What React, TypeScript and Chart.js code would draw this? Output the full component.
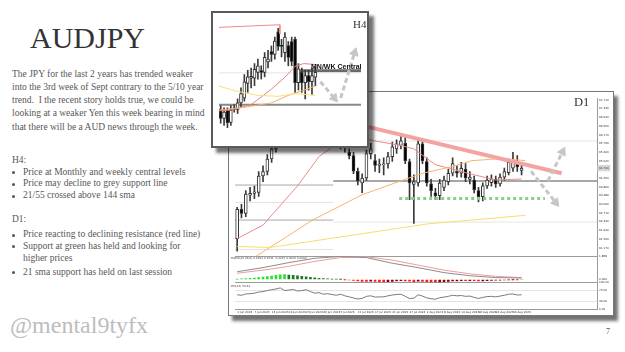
import React, { useEffect, useRef } from "react";
import { Chart, registerables } from "chart.js";

Chart.register(...registerables);

// ---------------- D1 data ----------------
const d1DateTicks = ["1 Jun 2023", "7 Jun 2023", "13 Jun 2023", "19 Jun 2023", "23 Jun 2023", "29 Jun 2023", "5 Jul 2023", "11 Jul 2023", "17 Jul 2023", "21 Jul 2023", "27 Jul 2023", "2 Aug 2023", "8 Aug 2023", "14 Aug 2023", "18 Aug 2023", "24 Aug 2023", "30 Aug 2023"];
const d1PriceTicks = [97.71, 97.33, 96.94, 96.56, 96.17, 95.79, 95.40, 95.02, 94.70, 94.25, 93.86, 93.48, 93.09, 92.71, 92.33, 91.94, 91.56, 91.17];
const macdTicks = [1.858, 0];
const rsiTicks = [100, 70, 30, 0];

const d1Open = [91.58, 92.87, 92.70, 93.50, 93.58, 93.62, 94.35, 94.55, 95.10, 95.55, 95.95, 96.40, 96.20, 96.75, 97.05, 96.70, 96.95, 97.40, 97.10, 96.55, 96.80, 96.35, 96.60, 96.20, 95.85, 95.95, 95.40, 95.25, 94.56, 94.04, 94.26, 95.34, 95.03, 94.82, 94.84, 94.88, 95.21, 95.55, 95.70, 95.80, 94.99, 93.98, 94.04, 95.77, 94.99, 94.00, 93.61, 93.48, 93.85, 94.10, 94.47, 94.56, 94.47, 94.65, 94.20, 94.17, 93.70, 93.44, 93.91, 94.06, 94.20, 94.00, 94.30, 94.50, 94.70, 95.00, 94.60];
const d1High = [92.96, 93.10, 93.70, 93.85, 93.90, 94.55, 94.80, 95.30, 95.75, 96.20, 96.60, 96.70, 96.95, 97.30, 97.20, 97.15, 97.60, 97.65, 97.25, 97.00, 96.95, 96.85, 96.75, 96.40, 96.10, 96.10, 95.55, 95.40, 94.70, 94.45, 95.50, 95.80, 95.30, 95.10, 95.15, 95.40, 95.85, 95.95, 96.10, 96.05, 95.10, 94.40, 96.05, 96.00, 95.15, 94.20, 93.80, 94.20, 94.35, 94.65, 95.15, 94.80, 94.95, 94.90, 94.55, 94.35, 93.85, 94.05, 94.35, 94.40, 94.35, 94.45, 94.70, 95.10, 95.40, 95.25, 94.95];
const d1Low = [91.02, 92.50, 92.55, 93.25, 93.35, 93.45, 94.10, 94.40, 94.95, 95.40, 95.80, 95.95, 96.05, 96.55, 96.45, 96.50, 96.80, 96.90, 96.40, 96.30, 96.10, 96.20, 95.95, 95.70, 95.55, 95.40, 95.10, 94.45, 93.95, 93.61, 94.15, 95.10, 94.55, 94.50, 94.40, 94.70, 95.00, 95.35, 95.55, 94.90, 93.30, 92.25, 93.90, 94.90, 93.90, 93.45, 93.30, 93.30, 93.70, 93.95, 94.35, 94.30, 94.30, 94.10, 94.00, 93.60, 93.20, 93.25, 93.80, 93.90, 93.85, 93.90, 94.15, 94.40, 94.55, 94.55, 94.40];
const d1Close = [92.87, 92.70, 93.55, 93.58, 93.65, 94.35, 94.55, 95.10, 95.55, 95.95, 96.40, 96.20, 96.75, 97.05, 96.70, 96.95, 97.40, 97.10, 96.55, 96.80, 96.35, 96.60, 96.20, 95.85, 95.95, 95.60, 95.25, 94.56, 94.13, 94.26, 95.34, 95.55, 94.82, 94.86, 94.88, 95.21, 95.64, 95.77, 95.90, 95.03, 94.04, 94.10, 95.77, 95.03, 94.04, 93.70, 93.48, 94.04, 94.17, 94.47, 94.90, 94.47, 94.69, 94.26, 94.30, 93.74, 93.44, 93.91, 94.17, 94.23, 94.00, 94.30, 94.55, 94.95, 95.00, 94.75, 94.70];

// moving averages etc.: [candle index, price]
const d1Sma21 = [[0, 91.58], [6, 92.18], [14, 93.91], [19, 95.21], [24, 95.9], [28, 96.1], [32, 95.9], [38, 95.7], [41, 95.55], [46, 94.85], [48, 94.75], [54, 94.45], [60, 94.17], [66, 94.22]];
const d1Sma55 = [[0, 90.45], [4, 90.75], [17.5, 92.4], [29, 93.52], [38.5, 94.17], [43, 94.47], [50, 94.77], [54.5, 95.03], [61.4, 95.12], [66.9, 95.03]];
const d1Sma144 = [[0, 91.23], [7.7, 91.19], [21.4, 91.58], [44.2, 92.23], [66.9, 92.61]];
const d1Resistance = [[26, 96.72], [75.3, 94.47]];
const d1GreenSupport = [[37.6, 93.35], [71.4, 93.35]];
const d1ArrowDown = [[68.2, 94.56], [73.9, 93.18]];
const d1ArrowUp = [[72.1, 94.13], [75.5, 95.42]];

const d1LevelPrice = [93.95, 92.40, 93.18, 91.10, 94.13, 95.90, 92.31];
const d1LevelFrom = [-0.5, -0.5, -0.5, -0.5, 22.3, 22.3, 22.3];
const d1LevelTo = [22.3, 22.3, 22.3, 22.3, 83.5, 83.5, 83.5];

const macdHist = [0.03, 0.05, 0.08, 0.10, 0.12, 0.16, 0.20, 0.24, 0.28, 0.33, 0.38, 0.40, 0.36, 0.33, 0.30, 0.25, 0.22, 0.18, 0.14, 0.10, 0.07, 0.05, 0.03, 0.02, 0.01, -0.01, -0.04, -0.08, -0.12, -0.15, -0.15, -0.14, -0.16, -0.18, -0.18, -0.17, -0.15, -0.12, -0.10, -0.11, -0.14, -0.17, -0.14, -0.15, -0.18, -0.20, -0.22, -0.20, -0.18, -0.15, -0.12, -0.11, -0.10, -0.10, -0.09, -0.10, -0.12, -0.11, -0.09, -0.07, -0.06, -0.05, -0.04, -0.02, -0.01, -0.01, 0.0];
const macdMain = [[0, 0.62], [6, 0.95], [12, 1.35], [18, 1.70], [24, 1.84], [30, 1.75], [36, 1.30], [42, 0.95], [48, 0.55], [54, 0.30], [60, 0.15], [66, 0.12]];
const macdSignal = [[0, 0.50], [6, 0.75], [12, 1.05], [18, 1.45], [24, 1.75], [30, 1.82], [36, 1.55], [42, 1.15], [48, 0.75], [54, 0.45], [60, 0.25], [66, 0.15]];
const rsi14 = [54, 52, 57, 58, 60, 64, 66, 70, 73, 76, 80, 70, 72, 74, 68, 70, 73, 66, 60, 62, 56, 58, 55, 52, 56, 50, 46, 42, 38, 40, 48, 50, 45, 46, 46, 50, 53, 55, 56, 48, 40, 41, 54, 49, 42, 39, 37, 43, 45, 48, 52, 50, 51, 48, 49, 44, 40, 44, 47, 48, 46, 49, 52, 56, 57, 53, 54];

// ---------------- H4 data ----------------
const h4Open = [94.02, 93.81, 93.99, 93.72, 94.05, 94.01, 94.16, 94.27, 94.60, 94.72, 94.72, 94.85, 94.89, 94.85, 95.09, 95.32, 95.26, 95.77, 95.46, 95.30, 95.46, 95.55, 95.60, 94.62, 94.85, 94.62, 94.78, 94.64, 94.74];
const h4High = [94.10, 94.05, 94.05, 94.10, 94.12, 94.25, 94.50, 94.80, 94.90, 94.95, 95.05, 95.15, 95.00, 95.30, 95.35, 95.45, 95.65, 95.85, 95.60, 95.75, 95.55, 95.65, 95.65, 95.05, 94.95, 94.90, 94.90, 94.95, 94.98];
const h4Low = [93.70, 93.65, 93.60, 93.65, 93.95, 93.92, 94.05, 94.20, 94.40, 94.50, 94.55, 94.70, 94.70, 94.75, 94.95, 95.10, 95.15, 95.35, 95.20, 95.10, 95.00, 95.00, 94.40, 94.45, 94.40, 94.25, 94.45, 94.35, 94.55];
const h4Close = [93.81, 93.95, 93.71, 94.00, 94.01, 94.16, 94.37, 94.64, 94.75, 94.76, 94.92, 95.00, 94.85, 95.19, 95.15, 95.26, 95.56, 95.44, 95.44, 95.65, 95.19, 95.10, 94.62, 94.93, 94.62, 94.78, 94.64, 94.78, 94.85];
const h4Sma21 = [[-0.5, 93.98], [3, 94.0], [9, 94.12], [15, 94.47], [19, 94.74], [22, 94.99], [24.5, 95.05], [28, 95.03]];
const h4Sma55 = [[-0.5, 94.0], [7, 94.06], [15, 94.16], [20, 94.33], [24, 94.43], [28, 94.54]];
const h4Sma144 = [[-0.5, 94.54], [5, 94.42], [11, 94.33], [17, 94.31], [22, 94.37], [28, 94.33]];
const h4MonthlyStep = [[-0.5, 95.87], [17.5, 95.93], [17.5, 95.72]];
const h4GreySupport = [[-0.5, 94.12], [41.5, 94.12]];
const h4LightLevel = [[-0.5, 94.84], [41.5, 94.84]];
const h4Central = [[23, 94.89], [41.5, 94.89]];
const h4ArrowDown = [[29.5, 94.64], [33.6, 94.27]];
const h4ArrowUp = [[35.5, 94.27], [39.6, 95.3]];

// ---------------- helpers ----------------
const pts = (a: number[][]) => a.map(([x, y]) => ({ x, y }));

function candles(o: number[], h: number[], l: number[], c: number[], yAxisID: string, bodyW: number) {
  return [
    {
      type: "bar", yAxisID, order: 8, grouped: false, barThickness: 1,
      data: o.map((_, i) => ({ x: i, y: [l[i], h[i]] })),
      backgroundColor: "#3a3a3a",
    },
    {
      type: "bar", yAxisID, order: 7, grouped: false, barThickness: bodyW, minBarLength: 1,
      data: o.map((v, i) => ({ x: i, y: [v, c[i]] })),
      backgroundColor: o.map((v, i) => (c[i] >= v ? "#ffffff" : "#000000")),
      borderColor: "#333", borderWidth: 1, borderSkipped: false,
    },
  ];
}

function line(data: number[][], color: string, width: number, yAxisID: string, order: number, extra: any = {}) {
  return { type: "line", data: pts(data), borderColor: color, backgroundColor: color, borderWidth: width, pointRadius: 0, tension: 0, fill: false, yAxisID, order, ...extra };
}

function arrowHead(p: number[], rotation: number, yAxisID: string, radius: number) {
  return { type: "line", data: pts([p]), showLine: false, pointStyle: "triangle", pointRadius: radius, rotation, pointBackgroundColor: "#c6c6c6", pointBorderColor: "#c6c6c6", borderWidth: 1, yAxisID, order: 0 };
}

const tickFont = { size: 2.8, family: "DejaVu Sans" };
const lastClose = d1Close[d1Close.length - 1];

function d1Config(): any {
  const levelColors = ["#a8a8a8", "#a8a8a8", "#e2e2e2", "#e2e2e2", "#8a8a8a", "#e6e6e6", "#e6e6e6"];
  const levelWidths = [1, 1, 1, 1, 1.5, 1, 1];
  const levels = d1LevelPrice.map((p, k) => line([[d1LevelFrom[k], p], [d1LevelTo[k], p]], levelColors[k], levelWidths[k], "yPrice", 20));
  const histColors = macdHist.map((v, i) => {
    const prev = i > 0 ? macdHist[i - 1] : 0;
    if (v >= 0) return v >= prev ? "#2ee02e" : "#1f7a1f";
    return v <= prev ? "#ff1a1a" : "#8b0000";
  });
  return {
    type: "bar",
    data: {
      datasets: [
        ...levels,
        ...candles(d1Open, d1High, d1Low, d1Close, "yPrice", 3),
        line(d1Sma144, "#f7dc6f", 1, "yPrice", 3),
        line(d1Sma55, "#f6b56a", 1, "yPrice", 3),
        line(d1Sma21, "#ee8a8a", 1, "yPrice", 3),
        line(d1Resistance, "#f4a3a3", 4, "yPrice", 2),
        line(d1GreenSupport, "#86cf86", 3, "yPrice", 2, { borderDash: [3, 3] }),
        line(d1ArrowDown, "#c6c6c6", 3, "yPrice", 1, { borderDash: [5, 3] }),
        line(d1ArrowUp, "#c6c6c6", 3, "yPrice", 1, { borderDash: [5, 3] }),
        arrowHead(d1ArrowDown[1], 142, "yPrice", 5),
        arrowHead(d1ArrowUp[1], 27, "yPrice", 5),
        { type: "bar", yAxisID: "yMacd", grouped: false, barThickness: 2, order: 5, data: macdHist.map((v, i) => ({ x: i, y: v })), backgroundColor: histColors },
        line(macdMain, "#8c8c8c", 1, "yMacd", 4),
        line(macdSignal, "#f19b9b", 1, "yMacd", 4),
        line(rsi14.map((v, i) => [i, v]), "#7a7a7a", 1, "yRsi", 4),
      ],
    },
    options: {
      responsive: false, animation: false, devicePixelRatio: 1,
      layout: { padding: { top: 1, left: 0, right: 0, bottom: 0 } },
      plugins: { legend: { display: false }, tooltip: { enabled: false } },
      scales: {
        x: {
          type: "linear", min: -0.5, max: 83.5, position: "bottom", offset: false,
          grid: { display: false, drawTicks: false, offset: false }, border: { color: "#9a9a9a" },
          ticks: { font: tickFont, color: "#333", padding: 1.5, maxRotation: 0, autoSkip: false, align: "start", callback: (v: number) => d1DateTicks[Math.round(v / 4)] ?? "" },
          afterBuildTicks: (s: any) => { s.ticks = d1DateTicks.map((_, k) => ({ value: k * 4 })); },
          afterFit: (s: any) => { s.height = 6; s.paddingLeft = 0; s.paddingRight = 0; },
        },
        yPrice: {
          type: "linear", position: "right", stack: "d1", stackWeight: 162, min: 90.8, max: 97.8,
          grid: { display: false, drawTicks: false }, border: { color: "#9a9a9a" },
          ticks: {
            font: tickFont, color: "#333", padding: 2, autoSkip: false, callback: (v: number) => v.toFixed(3),
            showLabelBackdrop: (ctx: any) => !!ctx.tick && ctx.tick.value === lastClose,
            backdropColor: "#d6d6d6", backdropPadding: 1.5,
          },
          afterBuildTicks: (s: any) => { s.ticks = d1PriceTicks.map((value) => ({ value })); },
          afterFit: (s: any) => { s.width = 16; s.paddingTop = 0; s.paddingBottom = 0; },
        },
        yMacd: {
          type: "linear", position: "right", stack: "d1", stackWeight: 27, min: -0.25, max: 1.858,
          grid: { drawTicks: false, color: (ctx: any) => (ctx.tick && ctx.tick.value === 1.858 ? "#9a9a9a" : "rgba(0,0,0,0)") },
          border: { color: "#9a9a9a" },
          ticks: { font: tickFont, color: "#333", padding: 2, autoSkip: false, callback: (v: number) => v.toFixed(3) },
          afterBuildTicks: (s: any) => { s.ticks = macdTicks.map((value) => ({ value })); },
          afterFit: (s: any) => { s.width = 16; s.paddingTop = 0; s.paddingBottom = 0; },
        },
        yRsi: {
          type: "linear", position: "right", stack: "d1", stackWeight: 27, min: 0, max: 100,
          grid: { drawTicks: false, color: (ctx: any) => { const v = ctx.tick && ctx.tick.value; return v === 100 ? "#9a9a9a" : v === 70 || v === 30 ? "#e4e4e4" : "rgba(0,0,0,0)"; } },
          border: { color: "#9a9a9a" },
          ticks: { font: tickFont, color: "#333", padding: 2, autoSkip: false, callback: (v: number) => v.toFixed(2) },
          afterBuildTicks: (s: any) => { s.ticks = rsiTicks.map((value) => ({ value })); },
          afterFit: (s: any) => { s.width = 16; s.paddingTop = 0; s.paddingBottom = 0; },
        },
      },
    },
  };
}

function h4Config(): any {
  return {
    type: "bar",
    data: {
      datasets: [
        line(h4LightLevel, "#e2e2e2", 1, "y", 20),
        line(h4GreySupport, "#8a8a8a", 2, "y", 20),
        line(h4Central, "#6a6a6a", 3, "y", 20),
        ...candles(h4Open, h4High, h4Low, h4Close, "y", 3),
        line(h4Sma144, "#f8df78", 1, "y", 3),
        line(h4Sma55, "#f5b066", 1, "y", 3),
        line(h4Sma21, "#ee8080", 1, "y", 3),
        line(h4MonthlyStep, "#f08a8a", 1, "y", 3),
        line(h4ArrowDown, "#c6c6c6", 3, "y", 1, { borderDash: [5, 3] }),
        line(h4ArrowUp, "#c6c6c6", 3, "y", 1, { borderDash: [5, 3] }),
        arrowHead(h4ArrowDown[1], 140, "y", 5),
        arrowHead(h4ArrowUp[1], 17, "y", 5),
      ],
    },
    options: {
      responsive: false, animation: false, devicePixelRatio: 1,
      layout: { padding: 0 },
      plugins: { legend: { display: false }, tooltip: { enabled: false } },
      scales: {
        x: { type: "linear", min: -0.5, max: 41.5, display: false, offset: false, grid: { offset: false } },
        y: { type: "linear", min: 93.32, max: 96.06, display: false },
      },
    },
  };
}

// ---------------- text ----------------
const SERIF = '"Liberation Serif", "Times New Roman", serif';
const introLines = [
  "The JPY for the last 2 years has trended weaker",
  "into the 3rd week of Sept contrary to the 5/10 year",
  "trend.  I the recent story holds true, we could be",
  "looking at a weaker Yen this week bearing in mind",
  "that there will be a AUD news through the week.",
];
const h4Bullets = ["Price at Monthly and weekly central levels", "Price may decline to grey support line", "21/55 crossed above 144 sma"];
const d1Bullets = ["Price reacting to declining resistance (red line)", "Support at green has held and looking for", "higher prices", "21 sma support has held on last session"];

const txt = (left: number, top: number, size: number, color: string, lh: number, extra: any = {}) => ({
  position: "absolute" as const, left, top, fontSize: size, lineHeight: lh + "px", color, fontFamily: SERIF, whiteSpace: "pre" as const, margin: 0, ...extra,
});

export default function App() {
  const d1Ref = useRef<HTMLCanvasElement>(null);
  const h4Ref = useRef<HTMLCanvasElement>(null);

  useEffect(() => {
    const d1 = new Chart(d1Ref.current as HTMLCanvasElement, d1Config());
    const h4 = new Chart(h4Ref.current as HTMLCanvasElement, h4Config());
    return () => { d1.destroy(); h4.destroy(); };
  }, []);

  const introTops = [67.5, 80.8, 94.1, 107.4, 120.7];
  const h4Tops = [165.6, 177.2, 189.0];
  const d1Tops = [228.1, 239.7, 252.3, 265.6];
  const d1HasDot = [true, true, false, true];
  const bodyColor = "#575757";

  return (
    <div style={{ position: "absolute", left: 0, top: 0, width: 625, height: 352, background: "#fff", overflow: "hidden" }}>
      <div style={txt(30, 23, 30, "#333", 30)}>AUDJPY</div>
      {introLines.map((s, i) => (
        <div key={"i" + i} style={txt(12, introTops[i], 9.5, bodyColor, 13.3)}>{s}</div>
      ))}
      <div style={txt(12, 154.1, 9.5, bodyColor, 13.3)}>H4:</div>
      {h4Bullets.map((s, i) => (
        <React.Fragment key={"h" + i}>
          <div style={{ position: "absolute", left: 12, top: h4Tops[i] + 5.6, width: 3, height: 3, borderRadius: 2, background: "#555" }} />
          <div style={txt(23, h4Tops[i], 9.5, bodyColor, 13.3)}>{s}</div>
        </React.Fragment>
      ))}
      <div style={txt(12, 213.3, 9.5, bodyColor, 13.3)}>D1:</div>
      {d1Bullets.map((s, i) => (
        <React.Fragment key={"d" + i}>
          {d1HasDot[i] && <div style={{ position: "absolute", left: 12, top: d1Tops[i] + 5.6, width: 3, height: 3, borderRadius: 2, background: "#555" }} />}
          <div style={txt(23, d1Tops[i], 9.5, bodyColor, 13.3)}>{s}</div>
        </React.Fragment>
      ))}
      <div style={txt(10, 313, 24, "#bdbdbd", 24)}>@mental9tyfx</div>
      <div style={txt(606, 328.3, 8, "#555", 8)}>7</div>

      {/* D1 chart window */}
      <div style={{ position: "absolute", left: 228, top: 91, width: 384, height: 223, border: "1px solid #777", background: "#fff", boxShadow: "4px 5px 3px rgba(0,0,0,0.55)" }}>
        <canvas ref={d1Ref} width={384} height={223} style={{ display: "block" }} />
        <div style={txt(345, 4.2, 12.5, "#333", 12.5)}>D1</div>
        <div style={{ position: "absolute", left: 2, top: 164.5, fontSize: 2.8, lineHeight: "3px", color: "#444", fontFamily: "DejaVu Sans", whiteSpace: "nowrap" }}>MACD(12,26,9) 0.1294 0.1531 -0.0237 0.0000 0.0000</div>
        <div style={{ position: "absolute", left: 2, top: 192.5, fontSize: 2.8, lineHeight: "3px", color: "#444", fontFamily: "DejaVu Sans", whiteSpace: "nowrap" }}>RSI(14) 53.42</div>
      </div>

      {/* H4 chart window */}
      <div style={{ position: "absolute", left: 211, top: 11, width: 154, height: 133, border: "2px solid #5a5a5a", background: "#fff", boxShadow: "5px 5px 3px rgba(0,0,0,0.55)" }}>
        <canvas ref={h4Ref} width={154} height={133} style={{ display: "block" }} />
        <div style={txt(140, 6.1, 11, "#333", 11)}>H4</div>
        <div style={{ position: "absolute", left: 98, top: 50.2, fontSize: 7, lineHeight: "7px", fontWeight: 700, color: "#111", fontFamily: '"Liberation Sans", Arial, sans-serif', whiteSpace: "nowrap" }}>MN/WK Central</div>
      </div>
    </div>
  );
}
